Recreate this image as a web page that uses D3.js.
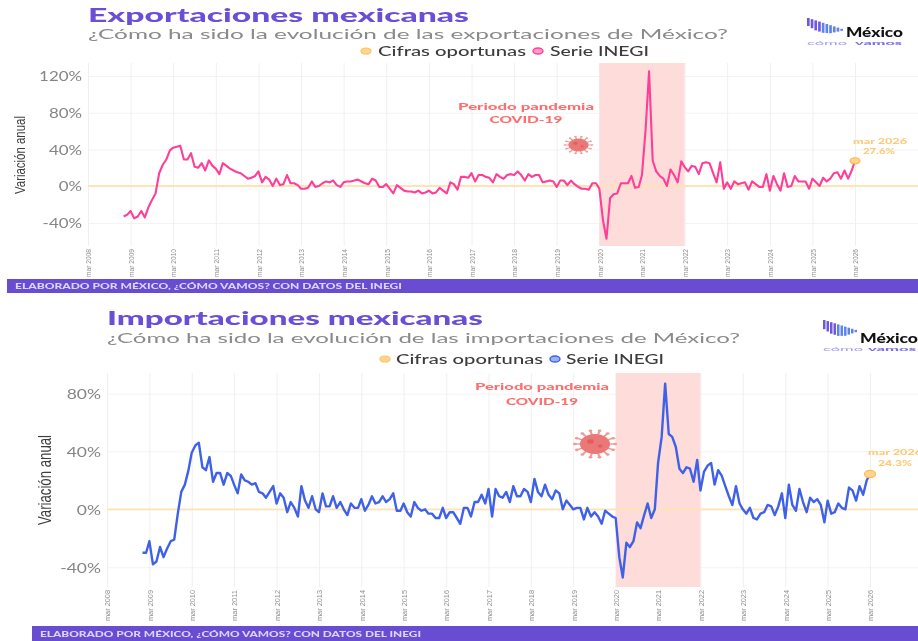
<!DOCTYPE html>
<html>
<head>
<meta charset="utf-8">
<script src="https://cdn.jsdelivr.net/npm/d3@7"></script>
<style>
  html, body { margin: 0; padding: 0; background: #fff; overflow: hidden; }
  #chart { width: 918px; height: 641px; filter: blur(0.6px); }
</style>
</head>
<body>
<div id="chart"></div>
<script>
// monthly annual change (%), Jan 2009 to Mar 2026
const exportValues = [
  -33, -31, -27, -35, -33, -27, -34, -23, -15, -8, 14, 23,
  29, 39, 42, 43, 44, 29, 29, 36, 21, 20, 25, 17,
  28, 22, 19, 13, 25, 22, 19, 17, 15, 14, 11, 8,
  9, 11, 16, 4, 10, 7, 0, 8, 1, 2, 12, 3,
  3, 1, -3, -3, -2, 5, -1, 0, 3, 5, 4, 6,
  1, -1, 4, 5, 5, 6, 7, 5, 3, 2, 8, 6,
  -1, -1, 2, -3, -8, 1, -2, -5, -6, -6, -7, -5,
  -8, -7, -5, -8, -7, -2, -5, -8, 4, 2, -4, 10,
  10, 9, 14, 5, 12, 12, 10, 9, 4, 13, 10, 8,
  12, 13, 12, 16, 12, 6, 13, 10, 12, 12, 4, 5,
  6, 5, -1, 6, 6, 1, 6, 2, -1, -3, -3, -4,
  3, 3, -3, -37, -57, -13, -9, -8, 3, 3, 3, 11,
  -2, -1, 12, 61, 125, 28, 16, 11, 8, 0, 18, 12,
  4, 27, 21, 16, 22, 21, 13, 25, 26, 25, 14, 4,
  26, -3, 4, -3, 5, 2, 3, 4, -4, 5, 2, -1,
  -1, 13, -5, 11, 2, -5, 14, -1, 0, 11, 5, 5,
  5, -3, 8, 4, 0, 9, 5, 8, 14, 15, 8, 17,
  8, 17, 27.6
];
const importValues = [
  -30, -30, -22, -38, -36, -26, -33, -27, -22, -21, -3, 12,
  17, 27, 39, 44, 46, 29, 27, 36, 19, 25, 25, 17,
  25, 23, 17, 11, 24, 20, 19, 17, 18, 12, 11, 8,
  12, 16, 4, 11, 8, -2, 5, 1, -5, 16, 6, 1,
  9, 0, -2, 11, 2, 2, 9, 1, 5, 0, -4, 4,
  1, 1, 7, -1, 3, 9, 4, 5, 9, 5, 7, 11,
  -1, -1, 4, -2, -5, 5, 1, -1, 0, -3, -3, -6,
  -6, 1, -6, -2, -2, -6, -10, 1, 1, -5, 5, 5,
  10, 4, 14, -5, 14, 9, 8, 12, 5, 16, 9, 9,
  14, 12, 5, 21, 12, 9, 17, 10, 7, 13, 11, 0,
  6, 3, 0, 1, 1, -7, 1, -5, -2, -5, -10, -1,
  -3, -5, -6, -33, -47, -23, -26, -22, -9, -13, -4, 4,
  -6, 0, 32, 50, 87, 52, 50, 43, 28, 25, 29, 28,
  19, 34, 13, 26, 30, 32, 17, 27, 23, 16, 9, 3,
  16, 4, 0, -3, 1, -6, -7, -3, -2, 3, 2, -4,
  2, 11, -6, 17, 3, -1, 14, 5, -2, 8, 5, 7,
  3, -9, 6, -3, -2, 4, 1, 0, 15, 13, 6, 16,
  10, 20, 24.3
];
const tickYears = [2008, 2009, 2010, 2011, 2012, 2013, 2014, 2015, 2016, 2017,
  2018, 2019, 2020, 2021, 2022, 2023, 2024, 2025, 2026];
const exportTicks = [-40, 0, 40, 80, 120];
const importTicks = [-40, 0, 40, 80];
const legendLabels = ["Cifras oportunas", "Serie INEGI"];
const pandemicStart = new Date(2020, 2, 1);
const pandemicEnd = new Date(2022, 2, 1);

const purple = "#6a4fd6";
const orange = "#ffc56f";

const root = d3.select("#chart").append("svg")
    .attr("width", 918)
    .attr("height", 641)
    .style("display", "block");

// the reference text is stretched, so force each string to its measured width
function fitText(parent, str, x, y, width, size, color, weight, family) {
    return parent.append("text")
        .attr("x", x)
        .attr("y", y)
        .attr("textLength", width)
        .attr("lengthAdjust", "spacingAndGlyphs")
        .style("font-family", family || "Lato")
        .style("font-size", size + "px")
        .style("font-weight", weight || 400)
        .style("fill", color)
        .text(str);
}

function drawVirus(cx, cy, r, stretch) {
    const virus = root.append("g")
        .attr("transform", `translate(${cx},${cy}) scale(${stretch},1)`);
    d3.range(14).forEach(i => {
        const a = i / 14 * 2 * Math.PI;
        virus.append("line")
            .attr("x2", Math.cos(a) * r * 1.35)
            .attr("y2", Math.sin(a) * r * 1.35)
            .attr("stroke", "#f09a98")
            .attr("stroke-width", r / 7);
        virus.append("circle")
            .attr("cx", Math.cos(a) * r * 1.35)
            .attr("cy", Math.sin(a) * r * 1.35)
            .attr("r", r / 8)
            .attr("fill", "#f09a98");
    });
    virus.append("circle").attr("r", r).attr("fill", "#ea7876");
    virus.append("circle").attr("cx", -r * 0.3).attr("cy", -r * 0.25).attr("r", r * 0.22).attr("fill", "#dd5f5e");
    virus.append("circle").attr("cx", r * 0.35).attr("cy", r * 0.2).attr("r", r * 0.16).attr("fill", "#dd5f5e");
}

function drawLogo(c) {
    const heights = [8, 9, 10, 10, 10, 9, 8, 6, 4, 2];
    heights.forEach((h, i) => {
        root.append("rect")
            .attr("x", c.x + i * c.step)
            .attr("y", c.y + i * c.slope)
            .attr("width", c.step * 0.72)
            .attr("height", h * c.scale)
            .attr("fill", i < 4 ? "#6f58e0" : "#5f83ec");
    });
    fitText(root, "México", c.textX, c.textY, c.textW, 13, "#111", 900);
    fitText(root, "cómo", c.x, c.subY, c.subW[0], 5.5, "#a39eee", 400);
    fitText(root, "vamos", c.x + c.subW[1], c.subY, c.subW[2], 5.5, "#7c70e2", 900);
}

function drawPanel(c) {
    const x = d3.scaleTime()
        .domain([new Date(2008, 2, 1), new Date(2026, 2, 1)])
        .range([c.x0, c.x1]);
    const y = d3.scaleLinear()
        .domain([-40, 0, 40].concat(c.yTop))
        .range(c.yRange);

    const data = c.values.map((v, i) => ({ date: new Date(2009, i, 1), value: v }));
    const g = root.append("g");

    // grid
    g.append("g")
        .attr("transform", `translate(${c.x0},0)`)
        .call(d3.axisLeft(y).tickValues(c.ticks).tickSize(-(918 - c.x0)).tickFormat(d => d + "%"))
        .call(a => a.select(".domain").remove())
        .call(a => a.selectAll("line").attr("stroke", "#f3f3f3"))
        .call(a => a.selectAll("text")
            .attr("x", -6)
            .attr("dy", "0.36em")
            .attr("transform-origin", d => `-6 ${y(d)}`)
            .attr("transform", `scale(${c.tickStretch},1)`)
            .style("font-family", "Lato")
            .style("font-size", c.tickSize + "px")
            .style("fill", "#858585"));

    const xAxis = g.append("g")
        .attr("transform", `translate(0,${c.plotBottom})`)
        .call(d3.axisBottom(x)
            .tickValues(tickYears.map(yr => new Date(yr, 2, 1)))
            .tickSize(-(c.plotBottom - c.plotTop))
            .tickFormat(d => "mar " + d.getFullYear()));
    xAxis.select(".domain").remove();
    xAxis.selectAll("line").attr("stroke", "#f0f0f0");
    xAxis.selectAll("text")
        .attr("transform", "rotate(-90)")
        .attr("x", -3)
        .attr("y", 0)
        .attr("dy", "0.35em")
        .attr("textLength", c.xTickLen)
        .attr("lengthAdjust", "spacingAndGlyphs")
        .style("text-anchor", "end")
        .style("font-family", "Liberation Sans")
        .style("font-size", c.xTickSize + "px")
        .style("fill", "#8f8f8f");

    // pandemic band
    g.append("rect")
        .attr("x", x(pandemicStart))
        .attr("y", c.plotTop)
        .attr("width", x(pandemicEnd) - x(pandemicStart))
        .attr("height", c.plotBottom - c.plotTop)
        .attr("fill", "#fddcd9");

    // zero line
    g.append("line")
        .attr("x1", c.x0)
        .attr("x2", 918)
        .attr("y1", y(0))
        .attr("y2", y(0))
        .attr("stroke", "#ffe3b5")
        .attr("stroke-width", 1.8);

    const line = d3.line().x(d => x(d.date)).y(d => y(d.value));
    g.append("path")
        .datum(data)
        .attr("fill", "none")
        .attr("stroke", c.color)
        .attr("stroke-width", c.lineWidth)
        .attr("stroke-linejoin", "round")
        .attr("d", line);

    const last = data[data.length - 1];
    g.append("ellipse")
        .attr("cx", x(last.date))
        .attr("cy", y(last.value))
        .attr("rx", c.marker[0])
        .attr("ry", c.marker[1])
        .attr("fill", "#ffd68f")
        .attr("stroke", "#ffb94f")
        .attr("stroke-width", 1.3);

    // titles
    fitText(root, c.title, c.titleX, c.titleY, c.titleW, c.titleSize, purple, 900);
    fitText(root, c.subtitle, c.titleX, c.titleY + c.subGap, c.subW, c.subSize, "#8a8a8a", 400);

    // legend
    root.append("ellipse").attr("cx", c.leg[0]).attr("cy", c.legY).attr("rx", 5).attr("ry", 3)
        .attr("fill", "#ffd68f").attr("stroke", "#ffbe5c").attr("stroke-width", 1.2);
    fitText(root, legendLabels[0], c.leg[1], c.legY + 5, c.leg[2], 14, "#3c3c3c", 500);
    root.append("ellipse").attr("cx", c.leg[3]).attr("cy", c.legY).attr("rx", 5).attr("ry", 3)
        .attr("fill", c.legendFill).attr("stroke", c.color).attr("stroke-width", 1.4);
    fitText(root, legendLabels[1], c.leg[4], c.legY + 5, c.leg[5], 14, "#3c3c3c", 500);

    // y axis title
    root.append("text")
        .attr("transform", `translate(${c.yTitle[0]},${c.yTitle[1]}) rotate(-90)`)
        .attr("text-anchor", "middle")
        .attr("textLength", c.yTitle[2])
        .attr("lengthAdjust", "spacingAndGlyphs")
        .style("font-family", "Liberation Sans")
        .style("font-size", c.yTitle[3] + "px")
        .style("fill", "#3c3c3c")
        .text("Variación anual");

    // pandemic note
    [["Periodo pandemia", c.note[1], c.note[3]], ["COVID-19", c.note[2], c.note[4]]].forEach(n => {
        fitText(root, n[0], c.note[0] - n[2] / 2, n[1], n[2], 10, "#fb6f6f", 900);
    });
    drawVirus(c.virus[0], c.virus[1], c.virus[2], c.virus[3]);

    // last value note
    fitText(root, "mar 2026", c.last[0], c.last[1], c.last[2], 8, "#ffc978", 900);
    fitText(root, last.value + "%", c.last[3], c.last[1] + c.last[5], c.last[4], 8, "#ffc978", 900);

    // footer
    root.append("rect")
        .attr("x", c.foot[0])
        .attr("y", c.foot[1])
        .attr("width", 918 - c.foot[0])
        .attr("height", c.foot[2])
        .attr("fill", "#684dd2");
    fitText(root, "ELABORADO POR MÉXICO, ¿CÓMO VAMOS? CON DATOS DEL INEGI",
        c.foot[0] + 8, c.foot[1] + c.foot[2] - 4, c.foot[3], 8, "#dcd5fb", 900);

    drawLogo(c.logo);
}

drawPanel({
    values: exportValues, ticks: exportTicks, color: "#ff3e98", legendFill: "#ff9ccb", lineWidth: 2.1, marker: [5, 3],
    x0: 88, x1: 855, yTop: [120], yRange: [223, 186, 149.5, 76],
    plotTop: 63, plotBottom: 246, tickSize: 13, tickStretch: 1.3, xTickSize: 8, xTickLen: 28,
    title: "Exportaciones mexicanas", titleX: 88, titleY: 22, titleW: 381, titleSize: 18,
    subtitle: "¿Cómo ha sido la evolución de las exportaciones de México?", subW: 640, subSize: 13.5, subGap: 16.5,
    legY: 51, leg: [366, 378, 148, 538, 550, 99],
    yTitle: [25, 155, 78, 15],
    note: [526, 110, 123, 136, 73],
    virus: [578.5, 145, 6.5, 1.55],
    last: [853, 144, 54, 863, 32, 10],
    foot: [7, 279, 14, 387],
    logo: { x: 807, y: 18, step: 3.7, slope: 1.2, scale: 1, textX: 846, textY: 37, textW: 57, subY: 44.5, subW: [40, 48, 47] }
});

drawPanel({
    values: importValues, ticks: importTicks, color: "#3f61e8", legendFill: "#9db0f4", lineWidth: 2.4, marker: [5.5, 3.6],
    x0: 107, x1: 870, yTop: [80], yRange: [567.3, 509.3, 451.3, 393.7],
    plotTop: 373, plotBottom: 587, tickSize: 14, tickStretch: 1.25, xTickSize: 8, xTickLen: 31,
    title: "Importaciones mexicanas", titleX: 107, titleY: 325, titleW: 376, titleSize: 19.5,
    subtitle: "¿Cómo ha sido la evolución de las importaciones de México?", subW: 633, subSize: 14, subGap: 17.5,
    legY: 359, leg: [385, 396, 147, 555, 566, 98],
    yTitle: [51, 480, 90, 18],
    note: [542, 390, 405, 134, 72],
    virus: [595, 444, 10, 1.5],
    last: [868, 455, 54, 878, 34, 11],
    foot: [32, 626, 15, 381],
    logo: { x: 823, y: 320, step: 3.5, slope: 1.1, scale: 1.15, textX: 860, textY: 343, textW: 58, subY: 350.5, subW: [40, 45, 48] }
});
</script>
</body>
</html>
